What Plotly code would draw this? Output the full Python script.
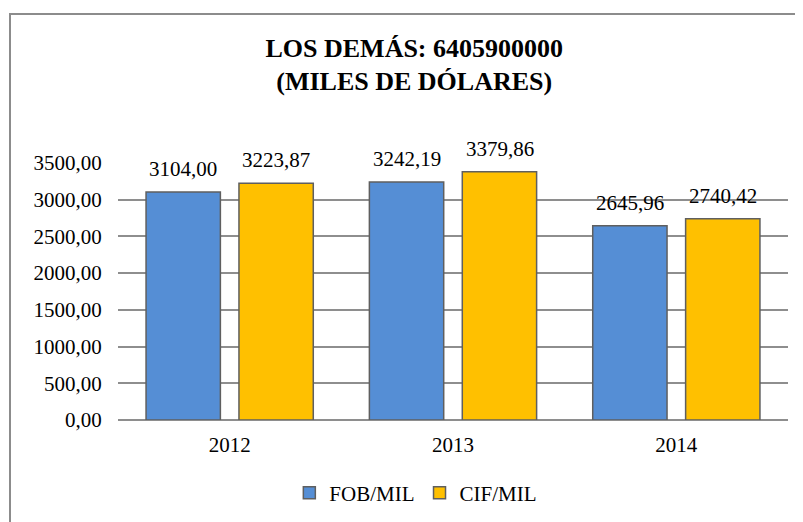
import plotly.graph_objects as go

years = ["2012", "2013", "2014"]
fob = [3104.00, 3242.19, 2645.96]
cif = [3223.87, 3379.86, 2740.42]
fob_labels = ["3104,00", "3242,19", "2645,96"]
cif_labels = ["3223,87", "3379,86", "2740,42"]
y_ticks = [0, 500, 1000, 1500, 2000, 2500, 3000, 3500]
y_tick_labels = ["0,00", "500,00", "1000,00", "1500,00", "2000,00", "2500,00", "3000,00", "3500,00"]

FONT = "Liberation Serif"
BLUE = "#558ED5"
GOLD = "#FFC000"
EDGE = "#5f5f5f"

W, H = 795, 514
L, T, PW, PH = 110, 155, 670, 257

fig = go.Figure()
fig.add_trace(go.Bar(name="FOB/MIL", x=years, y=fob, cliponaxis=False,
                     marker=dict(color=BLUE, line=dict(color=EDGE, width=1.5))))
fig.add_trace(go.Bar(name="CIF/MIL", x=years, y=cif, cliponaxis=False,
                     marker=dict(color=GOLD, line=dict(color=EDGE, width=1.5))))

annotations = []
for i in range(len(years)):
    for vals, labs, shift in ((fob, fob_labels, -46.5), (cif, cif_labels, 46.5)):
        annotations.append(dict(x=i, y=vals[i], xref="x", yref="y", text=labs[i], showarrow=False,
                                xshift=shift, yshift=23, yanchor="middle",
                                font=dict(family=FONT, size=21, color="#000")))

fig.update_layout(
    width=W, height=H,
    margin=dict(l=L, r=W - L - PW, t=T, b=H - T - PH, autoexpand=False),
    paper_bgcolor="white", plot_bgcolor="white",
    barmode="group", bargap=0.168, bargroupgap=0.2,
    font=dict(family=FONT, size=21, color="#000"),
    title=dict(text="<b>LOS DEMÁS: 6405900000<br>(MILES DE DÓLARES)</b>",
               x=0.511, xanchor="center", y=0.9056, yanchor="middle",
               font=dict(family=FONT, size=26, color="#000")),
    xaxis=dict(type="category", range=[-0.5, 2.5], autorange=False, showgrid=False, showline=False,
               ticks="outside", ticklen=6, tickcolor="rgba(0,0,0,0)",
               tickfont=dict(family=FONT, size=21, color="#000")),
    yaxis=dict(range=[0, 3500], autorange=False, tickvals=y_ticks, ticktext=y_tick_labels,
               showgrid=True, gridcolor="#8e8e8e", gridwidth=1.5,
               zeroline=True, zerolinecolor="#8e8e8e", zerolinewidth=1.5,
               showline=False, ticks="outside", ticklen=11, tickcolor="rgba(0,0,0,0)",
               tickfont=dict(family=FONT, size=21, color="#000")),
    legend=dict(orientation="h", xref="container", x=0.513, xanchor="center",
                yref="container", y=0.0564, yanchor="middle",
                font=dict(family=FONT, size=21, color="#000"),
                traceorder="normal"),
    annotations=annotations,
    shapes=[dict(type="rect", xref="paper", yref="paper",
                 x0=(2 - L) / PW, x1=(830 - L) / PW,
                 y0=(PH + T - 560) / PH, y1=(PH + T - 6) / PH,
                 line=dict(color="#8c8c8c", width=2), fillcolor="rgba(0,0,0,0)", layer="below")],
)

fig.write_html("out.html")
